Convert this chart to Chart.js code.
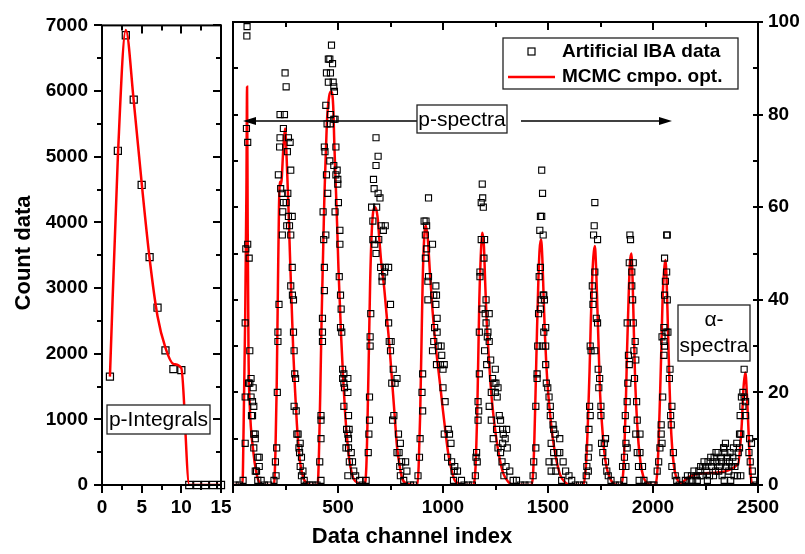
<!DOCTYPE html>
<html>
<head>
<meta charset="utf-8">
<script src="https://cdn.jsdelivr.net/npm/chart.js@4.4.0/dist/chart.umd.min.js"></script>
<style>
  html, body { margin: 0; padding: 0; background: #fff; }
  #wrap { position: relative; width: 805px; height: 554px; }
  #wrap canvas { position: absolute; left: 0; top: 0; }
</style>
</head>
<body>
<div id="wrap">
  <canvas id="intChart" width="805" height="554"></canvas>
  <canvas id="specChart" width="805" height="554"></canvas>
</div>
<script>
// --- p-Integrals (left panel) ---
const intIndex = [1, 2, 3, 4, 5, 6, 7, 8, 9, 10, 11, 12, 13, 14, 15];
const intCount = [1650, 5090, 6850, 5870, 4570, 3470, 2700, 2050, 1765, 1750, 0, 0, 0, 0, 0];
const intFit = [1650, 5000, 6930, 5850, 4600, 3450, 2570, 2090, 1845, 1780, 0, 0, 0, 0, 0];

// --- artificial IBA data, [channel, count] per peak ---
const ibaPeak1 = [[67,99],[66,97],[64,77],[70,74],[70,52],[61,51],[77,49],[58,35],[80,29],[74,22],[80,22],[86,23],[96,21],[58,19],[86,19],[93,18],[99,17],[88,15],[93,15],[99,11],[106,11],[106,10],[99,8],[58,9],[118,6],[125,6],[106,3],[112,3],[125,4],[118,1],[48,1],[134,1],[10,0],[30,0],[150,0],[170,0]];
const ibaPeak2 = [[248,89],[253,86],[224,80],[245,80],[240,77],[224,75],[264,75],[272,74],[222,73],[259,72],[216,67],[275,68],[227,64],[234,63],[261,63],[240,61],[253,61],[237,59],[282,58],[264,58],[256,56],[269,56],[235,54],[275,54],[282,47],[275,43],[283,41],[288,40],[219,39],[214,33],[288,33],[214,31],[291,29],[294,24],[298,23],[211,20],[291,17],[301,16],[304,11],[310,11],[320,9],[208,8],[314,8],[317,7],[326,6],[202,5],[320,4],[333,3],[205,2],[326,2],[339,1],[195,1],[349,0],[365,0],[380,0]];
const ibaPeak3 = [[469,95],[454,92],[461,92],[474,91],[445,89],[464,89],[454,87],[477,87],[480,86],[483,85],[442,82],[464,80],[480,79],[486,79],[448,78],[464,78],[435,73],[490,73],[438,72],[461,70],[480,69],[496,68],[445,67],[490,67],[499,66],[499,65],[451,63],[502,61],[429,59],[486,59],[509,55],[442,54],[432,53],[509,52],[435,47],[506,45],[435,42],[512,41],[515,38],[426,36],[512,34],[518,33],[426,33],[426,31],[522,25],[528,24],[522,23],[528,22],[531,21],[528,17],[419,15],[419,14],[541,12],[547,11],[419,10],[538,8],[550,8],[413,5],[554,5],[547,2],[419,1],[547,23],[547,20],[550,15],[553,12],[550,10],[563,7],[569,5],[575,3],[584,2],[603,1],[400,0],[615,0]];
const ibaPeak4 = [[681,75],[691,71],[681,69],[669,66],[672,64],[691,63],[700,62],[660,60],[684,60],[666,57],[706,56],[725,56],[716,55],[666,53],[694,53],[675,52],[681,50],[703,47],[725,47],[741,47],[722,46],[710,45],[710,44],[750,39],[656,37],[741,35],[653,32],[653,30],[744,31],[753,31],[750,29],[763,25],[781,23],[756,22],[772,22],[650,19],[766,15],[760,14],[650,14],[788,11],[647,11],[797,9],[781,7],[791,7],[644,7],[803,5],[822,5],[794,4],[828,3],[797,2],[813,1],[634,1],[845,0],[860,0]];
const ibaPeak5 = [[931,62],[910,57],[919,57],[922,56],[916,54],[950,52],[922,51],[916,49],[931,45],[928,44],[966,43],[956,41],[969,41],[928,40],[966,39],[972,36],[960,34],[972,33],[956,31],[991,30],[978,30],[950,29],[994,28],[969,26],[988,26],[1006,26],[1000,25],[903,24],[1000,21],[900,20],[1010,18],[903,16],[1025,12],[1031,11],[1006,11],[891,10],[1038,9],[888,6],[1022,6],[1041,5],[1056,4],[1053,3],[1069,3],[1050,1],[1088,1],[881,2],[1100,0],[1120,0]];
const ibaPeak6 = [[1187,65],[1189,62],[1182,61],[1192,60],[1182,53],[1198,53],[1195,49],[1176,46],[1176,45],[1205,40],[1186,38],[1220,37],[1201,37],[1205,35],[1173,33],[1214,33],[1211,32],[1220,31],[1198,29],[1227,27],[1208,26],[1249,25],[1173,24],[1236,23],[1252,22],[1243,22],[1262,21],[1249,20],[1230,20],[1258,19],[1167,18],[1220,17],[1170,16],[1268,15],[1167,14],[1274,14],[1230,14],[1255,12],[1284,12],[1303,12],[1287,11],[1296,10],[1239,10],[1284,9],[1262,8],[1306,8],[1274,7],[1160,7],[1157,6],[1163,5],[1281,5],[1300,4],[1318,3],[1154,2],[1290,2],[1334,1],[1350,1],[1140,0],[1370,0],[1390,0]];
const ibaPeak7 = [[1470,68],[1474,63],[1464,58],[1470,58],[1461,55],[1477,54],[1464,47],[1458,45],[1480,41],[1477,41],[1467,40],[1483,40],[1464,38],[1455,37],[1489,34],[1480,33],[1451,30],[1473,30],[1489,30],[1489,26],[1448,24],[1448,23],[1492,22],[1499,21],[1505,19],[1442,17],[1511,17],[1511,15],[1524,13],[1527,12],[1534,11],[1556,10],[1515,9],[1442,8],[1527,7],[1546,7],[1556,7],[1505,5],[1530,5],[1572,5],[1432,5],[1515,3],[1537,3],[1584,3],[1600,2],[1429,2],[1565,1],[1613,1],[1410,0],[1630,0],[1650,0]];
const ibaPeak8 = [[1723,61],[1720,56],[1717,54],[1736,53],[1723,46],[1711,43],[1717,41],[1714,39],[1730,36],[1736,35],[1701,30],[1723,29],[1705,29],[1739,25],[1746,23],[1742,21],[1698,17],[1752,17],[1701,15],[1752,15],[1695,12],[1774,10],[1755,9],[1768,9],[1695,8],[1692,6],[1761,7],[1774,5],[1780,3],[1685,4],[1692,3],[1682,2],[1787,2],[1800,1],[1670,0],[1820,0]];
const ibaPeak9 = [[1890,54],[1893,53],[1887,48],[1906,48],[1899,46],[1899,43],[1903,40],[1877,35],[1906,35],[1915,31],[1909,29],[1883,28],[1918,27],[1887,26],[1912,23],[1880,22],[1877,18],[1922,18],[1868,15],[1925,14],[1874,12],[1918,11],[1938,11],[1871,9],[1877,8],[1925,7],[1938,7],[1864,6],[1855,4],[1871,4],[1931,4],[1950,4],[1934,1],[1861,1],[1957,1],[1840,0],[1975,0],[1995,0]];
const ibaPeak10 = [[2065,54],[2068,54],[2055,49],[2065,46],[2059,44],[2055,41],[2068,40],[2052,34],[2062,33],[2071,33],[2043,32],[2052,31],[2055,30],[2052,28],[2081,25],[2078,23],[2046,19],[2090,17],[2084,15],[2087,13],[2039,13],[2039,11],[2043,9],[2033,8],[2097,7],[2027,5],[2090,4],[2020,3],[2106,2],[2113,1],[2005,0],[2125,0],[2140,0]];
const ibaAlpha = [[2154,1],[2164,2],[2176,1],[2183,2],[2189,1],[2195,3],[2205,2],[2211,1],[2218,3],[2224,2],[2227,4],[2234,2],[2237,4],[2243,5],[2250,4],[2256,3],[2259,1],[2262,5],[2269,2],[2275,6],[2278,4],[2285,5],[2288,2],[2291,6],[2297,3],[2300,7],[2304,5],[2310,7],[2313,3],[2316,4],[2323,6],[2326,5],[2329,2],[2336,8],[2338,8],[2339,1],[2342,7],[2345,9],[2348,5],[2351,4],[2355,6],[2361,3],[2364,5],[2367,7],[2370,1],[2374,4],[2380,6],[2383,8],[2386,2],[2390,4],[2393,5],[2399,9],[2402,2],[2406,7],[2412,11],[2418,2],[2434,25],[2428,20],[2434,19],[2421,19],[2441,18],[2428,17],[2415,15],[2441,15],[2418,11],[2469,9],[2460,10],[2412,8],[2457,7],[2463,5],[2473,3],[2479,1],[2490,0]];

// --- MCMC cmpo. opt. fit, [channel, count] ---
const mcmcFit = [
  [0,0],[45,0],[51,14],[58,36],[64,64],[67,86],[70,55],[74,28],[80,17],[96,7.5],[112,2.5],[128,0.4],[150,0],
  [195,0],[202,7],[208,21],[214,43],[219,60],[224,65.5],[229,65],[240,73],[248,77],[256,70],[264,60],[272,48.6],[280,38],[288,27.7],[296,20],[304,13.3],[312,8.3],[320,4.7],[336,1.4],[352,0.4],[368,0],
  [403,0],[410,8],[416,21],[422,36],[429,50],[435,62],[442,71.6],[448,79],[458,84],[467,85],[477,82],[483,73],[490,64],[496,56],[502,47],[509,39],[515,32],[525,22.7],[534,15.5],[544,9.7],[554,5.4],[566,2.5],[576,1.2],[600,0.3],
  [625,0],[635,4],[641,14.8],[647,29],[653,43.6],[660,54],[669,59.4],[678,60],[688,58],[697,53],[706,48],[719,43],[731,37],[744,30.6],[756,23.4],[769,15.5],[781,8.3],[794,4],[806,1.4],[828,0.3],
  [878,0],[884,4],[891,14.8],[897,29],[903,43.6],[910,53],[919,56],[928,53],[938,45.7],[950,37.8],[963,31],[975,26],[988,21],[1000,16],[1013,11],[1025,6.8],[1041,3.2],[1056,1],[1078,0.3],[1100,0],
  [1144,0],[1152,1.8],[1157,6],[1163,15.5],[1168,27.7],[1173,40],[1179,48.6],[1185,53.6],[1188,54.5],[1195,51.5],[1201,43.6],[1207,36.4],[1217,28.4],[1226,22],[1239,15.5],[1255,9.7],[1271,5.4],[1287,2.5],[1310,0.7],[1334,0.1],
  [1421,0],[1429,2.5],[1435,9.7],[1441,20.5],[1448,34],[1454,44],[1460,50.8],[1467,53],[1473,49],[1479,41],[1485,32.8],[1492,26],[1501,19.8],[1511,14.8],[1524,9.7],[1540,5.4],[1558,2.2],[1579,0.7],[1603,0.1],
  [1669,0],[1679,3.2],[1685,7.6],[1691,14.8],[1698,24.8],[1704,35.6],[1710,44],[1716,49.3],[1723,51.6],[1729,47],[1735,38.5],[1742,28.4],[1748,19.8],[1758,12.6],[1767,7.6],[1780,3.6],[1796,1.4],[1808,0.5],[1830,0],
  [1849,0],[1859,3.2],[1865,9.7],[1871,18.4],[1877,29.9],[1884,40.7],[1890,47.9],[1897,50],[1903,44],[1909,32.8],[1915,22.7],[1922,15.5],[1931,9],[1941,4.7],[1954,1.8],[1970,0.5],[1995,0],
  [2011,0],[2021,3.2],[2027,9.7],[2033,18.4],[2040,29.9],[2046,40.7],[2053,46.4],[2059,48.6],[2065,44],[2071,34],[2078,22.7],[2084,14],[2091,8.3],[2100,4],[2110,1.8],[2126,0.5],[2142,0.1],
  [2148,0.9],[2270,2.6],[2405,4.5],[2422,12.6],[2431,21],[2440,24.3],[2447,19.8],[2454,12.6],[2460,6.1],[2466,1.7],[2472,0.4],[2500,0]
];

const FONT = "'Liberation Sans', Arial, sans-serif";
Chart.defaults.font.family = FONT;
Chart.defaults.color = '#000';

const toXY = pairs => pairs.map(([x, y]) => ({ x, y }));
const range = (a, b, s) => { const r = []; for (let v = a; v <= b + 1e-9; v += s) r.push(v); return r; };

// === FRAME + TICK MARKS ===
function tickMarks(ctx, area, scale, values, side, inLen, outLen) {
  values.forEach(v => {
    const p = Math.round(scale.getPixelForValue(v));
    ctx.beginPath();
    if (side === 'bottom') { ctx.moveTo(p, area.bottom - inLen); ctx.lineTo(p, area.bottom + outLen); }
    else if (side === 'top') { ctx.moveTo(p, area.top - outLen); ctx.lineTo(p, area.top + inLen); }
    else if (side === 'left') { ctx.moveTo(area.left - outLen, p); ctx.lineTo(area.left + inLen, p); }
    else { ctx.moveTo(area.right - inLen, p); ctx.lineTo(area.right + outLen, p); }
    ctx.stroke();
  });
}

const framePlugin = {
  id: 'frame',
  afterDraw(chart, args, opts) {
    const { ctx, chartArea: a } = chart;
    ctx.save();
    ctx.strokeStyle = '#000';
    ctx.lineWidth = 2;
    ctx.strokeRect(a.left, a.top, a.right - a.left, a.bottom - a.top);
    opts.marks.forEach(m => tickMarks(ctx, a, chart.scales[m.axis], m.values, m.side, m.inLen, m.outLen));
    ctx.restore();
  }
};

function textBox(ctx, x, y, w, h) {
  ctx.fillStyle = '#fff';
  ctx.fillRect(x, y, w, h);
  ctx.strokeStyle = '#222';
  ctx.lineWidth = 1.3;
  ctx.strokeRect(x, y, w, h);
}

function arrow(ctx, x0, x1, y) {
  const d = Math.sign(x1 - x0);
  ctx.strokeStyle = '#000';
  ctx.fillStyle = '#000';
  ctx.lineWidth = 1.5;
  ctx.beginPath(); ctx.moveTo(x0, y); ctx.lineTo(x1 - d * 6, y); ctx.stroke();
  ctx.beginPath(); ctx.moveTo(x1, y); ctx.lineTo(x1 - d * 13, y - 4); ctx.lineTo(x1 - d * 13, y + 4); ctx.closePath(); ctx.fill();
}

// === LEFT PANEL NOTES ===
const intNotes = {
  id: 'intNotes',
  afterDraw(chart) {
    const ctx = chart.ctx;
    ctx.save();
    textBox(ctx, 107, 405, 103, 29);
    ctx.fillStyle = '#000';
    ctx.textAlign = 'center';
    ctx.textBaseline = 'middle';
    ctx.font = '21px ' + FONT;
    ctx.fillText('p-Integrals', 158.5, 420);
    ctx.translate(24, 253);
    ctx.rotate(-Math.PI / 2);
    ctx.font = 'bold 22px ' + FONT;
    ctx.fillText('Count data', 0, 0);
    ctx.restore();
  }
};

// === MAIN PANEL NOTES ===
const specNotes = {
  id: 'specNotes',
  afterDraw(chart) {
    const ctx = chart.ctx;
    ctx.save();
    // legend
    textBox(ctx, 503, 38, 235, 51);
    ctx.strokeStyle = '#000';
    ctx.lineWidth = 1.2;
    ctx.strokeRect(528, 48, 7, 7);
    ctx.strokeStyle = '#ff0000';
    ctx.lineWidth = 2.5;
    ctx.beginPath(); ctx.moveTo(508, 77); ctx.lineTo(555, 77); ctx.stroke();
    ctx.fillStyle = '#000';
    ctx.textAlign = 'left';
    ctx.textBaseline = 'middle';
    ctx.font = 'bold 19px ' + FONT;
    ctx.fillText('Artificial IBA data', 562, 52);
    ctx.fillText('MCMC cmpo. opt.', 562, 77);

    // p-spectra
    arrow(ctx, 417, 243, 121);
    arrow(ctx, 521, 672, 121);
    textBox(ctx, 417, 105, 90, 28);
    ctx.fillStyle = '#000';
    ctx.textAlign = 'center';
    ctx.font = '21px ' + FONT;
    ctx.fillText('p-spectra', 462, 120);

    // alpha-spectra
    textBox(ctx, 678, 305, 72, 56);
    ctx.fillStyle = '#000';
    ctx.fillText('\u03b1-', 714, 320);
    ctx.fillText('spectra', 714, 346);

    // x title
    ctx.font = 'bold 22px ' + FONT;
    ctx.fillText('Data channel index', 412, 537);
    ctx.restore();
  }
};

const tickFont = { size: 19, weight: 'bold' };
const hideGrid = { display: false, drawTicks: false };

// === LEFT PANEL: p-Integrals ===
new Chart(document.getElementById('intChart'), {
  type: 'scatter',
  data: {
    datasets: [
      {
        data: intIndex.map((x, i) => ({ x, y: intFit[i] })),
        showLine: true,
        borderColor: '#ff0000',
        borderWidth: 2.5,
        pointRadius: 0,
        cubicInterpolationMode: 'monotone'
      },
      {
        data: intIndex.map((x, i) => ({ x, y: intCount[i] })),
        pointStyle: 'rect',
        pointRadius: 5,
        borderColor: '#000',
        backgroundColor: 'rgba(0,0,0,0)',
        borderWidth: 1.2,
        clip: false
      }
    ]
  },
  options: {
    responsive: false,
    animation: false,
    events: [],
    layout: { padding: { top: 22, right: 584, left: 0, bottom: 0 } },
    plugins: { legend: { display: false }, tooltip: { enabled: false },
      frame: { marks: [
        { axis: 'x', values: [0, 5, 10, 15], side: 'bottom', inLen: 0, outLen: 8 },
        { axis: 'x', values: [2.5, 7.5, 12.5], side: 'bottom', inLen: 0, outLen: 5 },
        { axis: 'x', values: [0, 5, 10, 15], side: 'top', inLen: 8, outLen: 0 },
        { axis: 'x', values: [2.5, 7.5, 12.5], side: 'top', inLen: 5, outLen: 0 },
        { axis: 'y', values: range(0, 7000, 1000), side: 'left', inLen: 0, outLen: 8 },
        { axis: 'y', values: range(500, 6500, 1000), side: 'left', inLen: 0, outLen: 5 },
        { axis: 'y', values: range(0, 7000, 1000), side: 'right', inLen: 8, outLen: 0 },
        { axis: 'y', values: range(500, 6500, 1000), side: 'right', inLen: 5, outLen: 0 }
      ] } },
    scales: {
      x: {
        type: 'linear', min: 0, max: 15,
        grid: hideGrid, border: { display: false },
        ticks: { stepSize: 5, autoSkip: false, maxRotation: 0, padding: 11, font: tickFont, color: '#000',
                 callback: v => String(v) },
        afterFit: s => { s.height = 69; }
      },
      y: {
        min: 0, max: 7000,
        grid: hideGrid, border: { display: false },
        ticks: { stepSize: 1000, padding: 14, font: tickFont, color: '#000', callback: v => String(v) },
        afterFit: s => { s.width = 102; }
      }
    }
  },
  plugins: [framePlugin, intNotes]
});

// === MAIN PANEL: spectra ===
new Chart(document.getElementById('specChart'), {
  type: 'scatter',
  data: {
    datasets: [
      {
        data: toXY([...ibaPeak1, ...ibaPeak2, ...ibaPeak3, ...ibaPeak4, ...ibaPeak5,
                    ...ibaPeak6, ...ibaPeak7, ...ibaPeak8, ...ibaPeak9, ...ibaPeak10, ...ibaAlpha]),
        pointStyle: 'rect',
        pointRadius: 4.3,
        borderColor: '#000',
        backgroundColor: 'rgba(0,0,0,0)',
        borderWidth: 1.1
      },
      {
        data: toXY(mcmcFit),
        showLine: true,
        borderColor: '#ff0000',
        borderWidth: 2.5,
        pointRadius: 0,
        cubicInterpolationMode: 'monotone'
      }
    ]
  },
  options: {
    responsive: false,
    animation: false,
    events: [],
    layout: { padding: { top: 22, left: 233, right: 0, bottom: 0 } },
    plugins: { legend: { display: false }, tooltip: { enabled: false },
      frame: { marks: [
        { axis: 'x', values: range(0, 2500, 500), side: 'bottom', inLen: 0, outLen: 8 },
        { axis: 'x', values: range(250, 2250, 500), side: 'bottom', inLen: 0, outLen: 5 },
        { axis: 'x', values: range(0, 2500, 500), side: 'top', inLen: 8, outLen: 0 },
        { axis: 'x', values: range(250, 2250, 500), side: 'top', inLen: 5, outLen: 0 },
        { axis: 'y', values: range(0, 100, 10), side: 'left', inLen: 5, outLen: 0 },
        { axis: 'y', values: range(0, 100, 20), side: 'right', inLen: 5, outLen: 5 },
        { axis: 'y', values: range(10, 90, 20), side: 'right', inLen: 5, outLen: 0 }
      ] } },
    scales: {
      x: {
        type: 'linear', min: 0, max: 2500,
        grid: hideGrid, border: { display: false },
        ticks: { stepSize: 500, autoSkip: false, maxRotation: 0, padding: 11, font: tickFont, color: '#000',
                 callback: v => (v === 0 ? '' : String(v)) },
        afterFit: s => { s.height = 69; }
      },
      y: {
        position: 'right', min: 0, max: 100,
        grid: hideGrid, border: { display: false },
        ticks: { stepSize: 20, padding: 10, font: tickFont, color: '#000', callback: v => String(v) },
        afterFit: s => { s.width = 47; }
      }
    }
  },
  plugins: [framePlugin, specNotes]
});
</script>
</body>
</html>
